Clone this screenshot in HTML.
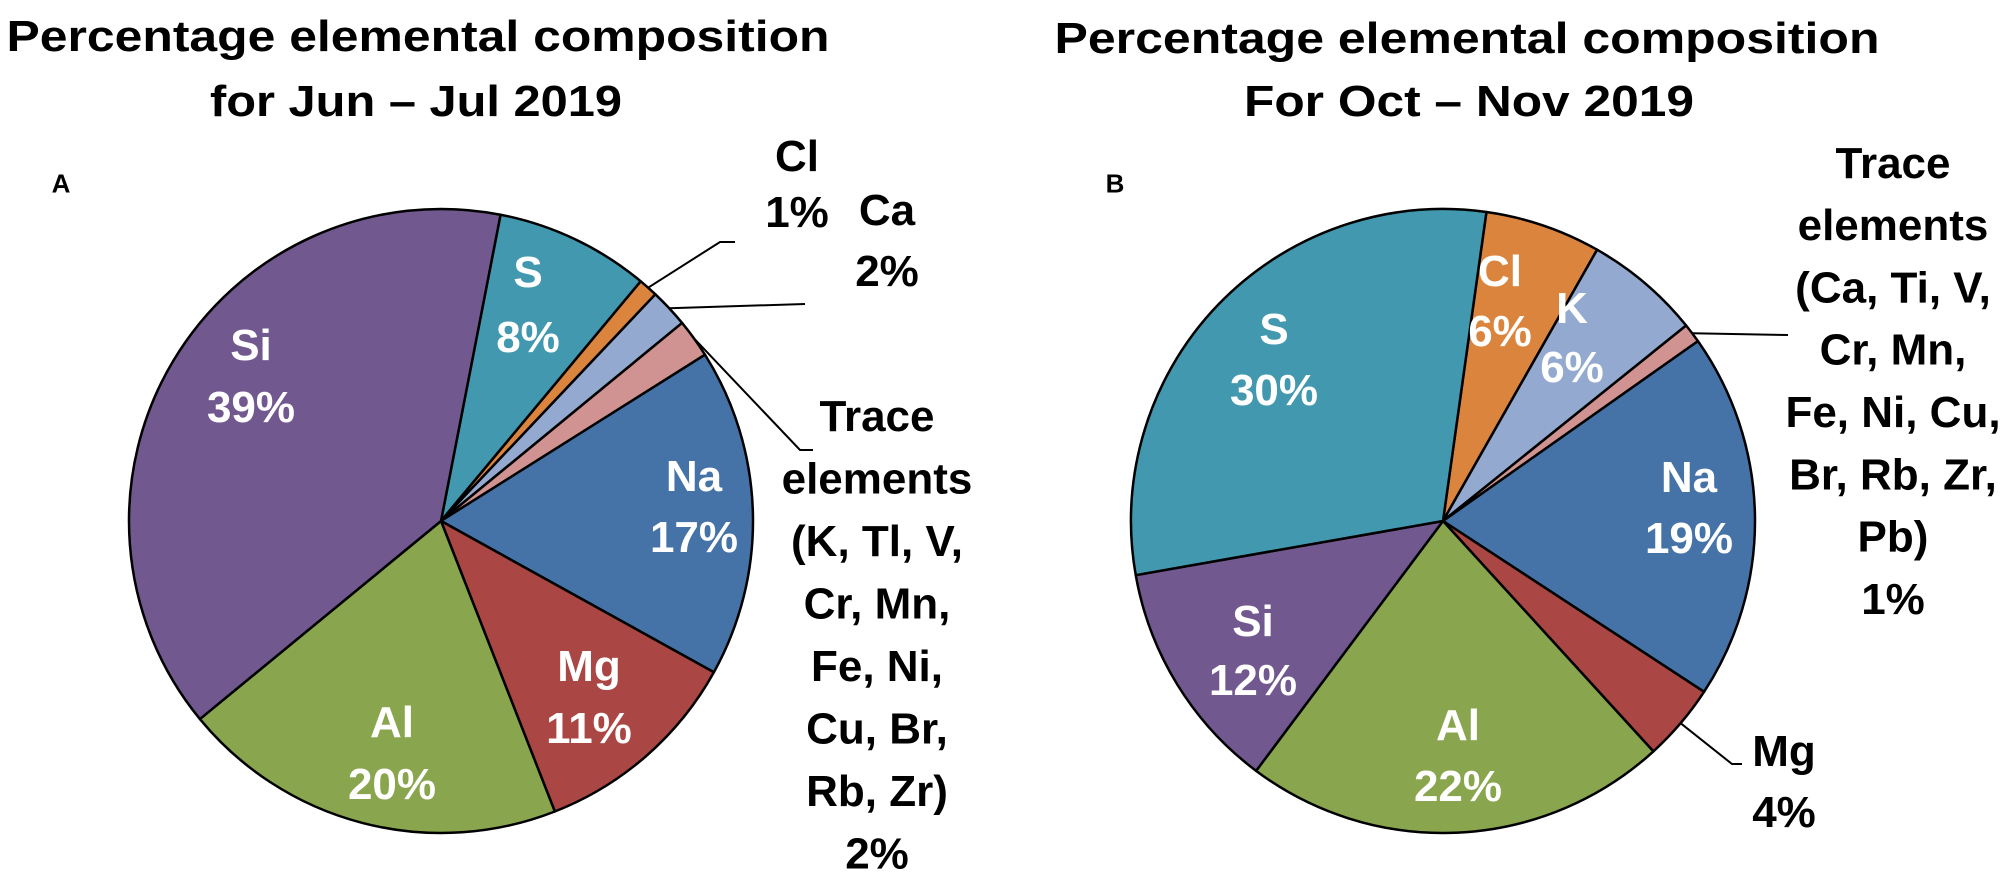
<!DOCTYPE html>
<html><head><meta charset="utf-8"><style>
html,body{margin:0;padding:0;background:#fff;}
svg{display:block;}
text{font-family:"Liberation Sans",sans-serif;font-weight:bold;}
</style></head><body>
<svg id="chart" width="2008" height="885" viewBox="0 0 2008 885" xmlns="http://www.w3.org/2000/svg"></svg>
<script>
// Panel A data (Jun - Jul 2019)
const catsA = ["S","Cl","Ca","Trace","Na","Mg","Al","Si"];
const valsA = [8,1,2,2,17,11,20,39];
const labelsA = ["8%","1%","2%","2%","17%","11%","20%","39%"];
// Panel B data (Oct - Nov 2019)
const catsB = ["Cl","K","Trace","Na","Mg","Al","Si","S"];
const valsB = [6,6,1,19,4,22,12,30];
const labelsB = ["6%","6%","1%","19%","4%","22%","12%","30%"];

const colors = {S:"#4198af",Cl:"#db843d",Ca:"#93a9cf",K:"#93a9cf",Trace:"#d19392",Na:"#4572a7",Mg:"#aa4643",Al:"#89a54e",Si:"#71588f"};
const NS="http://www.w3.org/2000/svg";
const svg=document.getElementById('chart');
function mk(tag,attrs,parent){const e=document.createElementNS(NS,tag);for(const k in attrs)e.setAttribute(k,attrs[k]);(parent||svg).appendChild(e);return e;}
function txt(str,x,y,size,fill,name,parent,len){
  const t=mk('text',{x:x,y:y+size*0.36,'font-size':size,fill:fill,'text-anchor':'middle'},parent);
  if(len){t.setAttribute('textLength',len);t.setAttribute('lengthAdjust','spacingAndGlyphs');}
  t.textContent=str;
  
  
  return t;
}
function pt(cx,cy,r,a){const rad=a*Math.PI/180;return [cx+r*Math.sin(rad),cy-r*Math.cos(rad)];}

function drawPie(id,cats,vals,cx,cy,r,start){
  const g=mk('g',{});
  
  
  const total=vals.reduce((a,b)=>a+b,0);
  let a=start;const mids=[];
  cats.forEach((c,i)=>{
    const sweep=vals[i]/total*360;
    const p0=pt(cx,cy,r,a),p1=pt(cx,cy,r,a+sweep);
    const large=sweep>180?1:0;
    const p=mk('path',{d:`M${cx},${cy} L${p0[0]},${p0[1]} A${r},${r} 0 ${large} 1 ${p1[0]},${p1[1]} Z`,fill:colors[c],stroke:'#000','stroke-width':2.5,'stroke-linejoin':'round'},g);
    
    
    mids.push(a+sweep/2);
    a+=sweep;
  });
  return mids;
}

// Titles
txt("Percentage elemental composition",418,35,44,"#000","title-a-line1",null,823);
txt("for Jun \u2013 Jul 2019",416,100,44,"#000","title-a-line2",null,412);
txt("Percentage elemental composition",1467,37,44,"#000","title-b-line1",null,825);
txt("For Oct \u2013 Nov 2019",1469,100,44,"#000","title-b-line2",null,450);
txt("A",61,183,26,"#000","panel-a-letter");
txt("B",1115,183,26,"#000","panel-b-letter");

const cxA=441,cyA=521,R=312;
const midsA=drawPie('a',catsA,valsA,cxA,cyA,R,11);
const cxB=1443,cyB=521;
const midsB=drawPie('b',catsB,valsB,cxB,cyB,R,8);

function line(pts,name){const l=mk('polyline',{points:pts.map(p=>p.join(',')).join(' '),fill:'none',stroke:'#000','stroke-width':2});
  
  }
function edgeA(i){return pt(cxA,cyA,R,midsA[i]);}
function edgeB(i){return pt(cxB,cyB,R,midsB[i]);}
line([edgeA(1),[720,242],[735,242]],"leader-a-cl");
line([edgeA(2),[805,304]],"leader-a-ca");
line([edgeA(3),[800,450],[813,450]],"leader-a-trace");
line([edgeB(2),[1788,335]],"leader-b-trace");
line([edgeB(4),[1732,764],[1742,764]],"leader-b-mg");

const F=44;
function inLabel(x,y1,y2,name,pct){
  txt(name,x,y1,F,"#fff","label-"+name.toLowerCase());
  txt(pct,x,y2,F,"#fff","value-"+name.toLowerCase());
}
inLabel(528,271,336,catsA[0],labelsA[0]);
inLabel(694,475,536,catsA[4],labelsA[4]);
inLabel(589,665,727,catsA[5],labelsA[5]);
inLabel(392,721,783,catsA[6],labelsA[6]);
inLabel(251,344,406,catsA[7],labelsA[7]);
txt("Cl",797,155,F,"#000","label-a-cl");txt(labelsA[1],797,211,F,"#000","value-a-cl");
txt("Ca",887,209,F,"#000","label-a-ca");txt(labelsA[2],887,270,F,"#000","value-a-ca");
const traceA=["Trace","elements","(K, Tl, V,","Cr, Mn,","Fe, Ni,","Cu, Br,","Rb, Zr)",labelsA[3]];
traceA.forEach((s,i)=>txt(s,877,415+i*62.5,F,"#000","label-a-trace-line"));

inLabel(1500,270,330,catsB[0],labelsB[0]);
inLabel(1572,307,366,catsB[1],labelsB[1]);
inLabel(1689,476,537,catsB[3],labelsB[3]);
inLabel(1458,724,785,catsB[5],labelsB[5]);
inLabel(1253,620,679,catsB[6],labelsB[6]);
inLabel(1274,328,389,catsB[7],labelsB[7]);
txt("Mg",1784,750,F,"#000","label-b-mg");txt(labelsB[4],1784,811,F,"#000","value-b-mg");
const traceB=["Trace","elements","(Ca, Ti, V,","Cr, Mn,","Fe, Ni, Cu,","Br, Rb, Zr,","Pb)",labelsB[2]];
traceB.forEach((s,i)=>txt(s,1893,162+i*62.3,F,"#000","label-b-trace-line"));
</script>
</body></html>
